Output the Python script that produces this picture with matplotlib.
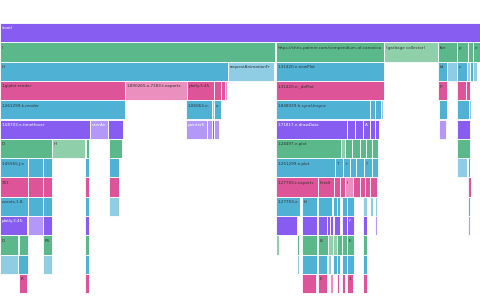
import matplotlib
matplotlib.use("Agg")
import matplotlib.pyplot as plt

# flame chart frames, one list per depth: (start ms, duration ms, name, dimmed)
row0 = [(0, 480, "(root)", False)]
row1 = [(0, 275, "l", False), (276, 108, "https://chris-palmer.com/compendium-of-canonical-charts", False),
        (384, 54, "(garbage collector)", True), (438, 19, "fwr", False), (457, 11, "p", False),
        (468, 5, "", False), (473, 7, "e", False)]
row2 = [(0, 228, "H", False), (228, 46, "requestAnimationFrame", True), (276, 108, "1.31420.e.newPlot", False),
        (438, 9, "tde", False), (447, 10, "", True), (457, 10, "c", False), (467, 3, "", True),
        (470, 3, "", False), (473, 4, "", True)]
row3 = [(0, 125, "1.glplot.render", False), (125, 62, "1.890265.e.7183.t.exports", True),
        (187, 27, "plotly.3.45.3.min.js", False), (214, 7, "", False), (221, 4, "", False),
        (225, 2, "", True), (276, 108, "1.31420.e._doPlot", False), (438, 9, "p", False),
        (457, 9, "", False), (466, 4, "", False)]
row4 = [(0, 125, "1.261299.k.render", False), (186, 26, "1.06063.e.6963.e.b", False), (212, 2, "", True),
        (214, 7, "s", False), (276, 94, "1.848029.h.syncUnsync", False), (370, 5, "", False),
        (375, 6, "", False), (381, 2, "", True), (439, 8, "", False), (457, 12, "", False), (469, 2, "", True)]
row5 = [(0, 90, "1.58703.e.timeHover", False), (90, 18, "userAnimation", True), (108, 15, "", False),
        (186, 21, "pointerEvents", True), (207, 5, "", True), (212, 2, "", False), (214, 5, "", True),
        (276, 71, "1.71817.e.drawData", False), (347, 8, "", False), (355, 8, "", False),
        (363, 7, "A", False), (370, 5, "D", False), (375, 4, "", False), (439, 7, "", True), (457, 13, "", False)]
row6 = [(0, 52, "D", False), (52, 33, "H", True), (86, 3, "B", False), (109, 13, "", False),
        (276, 65, "1.24497.e.plot", False), (341, 4, "", True), (345, 7, "", False), (352, 8, "", False),
        (360, 6, "", False), (366, 6, "", False), (372, 6, "", False), (457, 13, "", False)]
row7 = [(0, 28, "1.45565.J.each", False), (28, 15, "", False), (43, 9, "", False), (85, 4, "", False),
        (109, 10, "", False), (276, 59, "1.251299.e.plot", False), (335, 8, "T", False), (343, 7, "+", False),
        (350, 6, "", False), (356, 8, "", False), (364, 8, "?", False), (372, 6, "", False),
        (457, 10, "", True), (468, 2, "", False)]
row8 = [(0, 28, "351", False), (28, 15, "", False), (43, 9, "", False), (85, 4, "", False),
        (109, 10, "", False), (276, 42, "1.27705.t.exports", False), (318, 16, "F.redraw", False),
        (334, 6, "", False), (340, 5, "", False), (345, 8, "I", True), (353, 7, "", False),
        (360, 5, "", False), (365, 5, "", False), (370, 7, "", False), (468, 3, "", False)]
row9 = [(0, 28, "events.1.8.3.min.js", False), (28, 15, "", False), (43, 9, "", False), (85, 4, "", False),
        (109, 10, "", True), (276, 24, "1.27703.e.render", False), (302, 15, "ld", False), (318, 14, "", False),
        (333, 4, "", False), (337, 3, "", False), (342, 5, "", False), (347, 7, "", False),
        (363, 4, "", True), (370, 3, "", True), (375, 2, "", True), (468, 2, "", False)]
row10 = [(0, 27, "plotly.3.45.3.min.js.parent", False), (28, 15, "", True), (43, 9, "", False),
         (85, 4, "", False), (276, 21, "", False), (302, 15, "", False), (318, 9, "", False),
         (327, 3, "", False), (330, 3, "", False), (334, 6, "", False), (342, 5, "", False),
         (347, 7, "F", False), (363, 4, "", False), (375, 2, "", True), (468, 2, "", True)]
row11 = [(0, 18, "D", False), (19, 9, "", False), (43, 9, "R5", False), (85, 4, "", False),
         (276, 3, "", True), (297, 2, "", False), (302, 15, "", False), (318, 10, "B", False),
         (328, 5, "", True), (333, 4, "", True), (337, 5, "", False), (342, 5, "", False),
         (347, 7, "E", False), (363, 4, "", False)]
row12 = [(0, 18, "", True), (18, 10, "", False), (43, 9, "", True), (85, 4, "", False),
         (297, 2, "", True), (302, 15, "", False), (318, 9, "", False), (328, 3, "", True),
         (333, 4, "", False), (337, 3, "", False), (342, 5, "", False), (347, 7, "", False), (363, 4, "", False)]
row13 = [(19, 8, "RS", False), (85, 4, "", False), (302, 14, "", False), (318, 9, "E", False),
         (330, 3, "", True), (337, 2, "", False), (342, 3, "", False), (347, 6, "10", False), (363, 4, "", False)]

rows = [row0, row1, row2, row3, row4, row5, row6, row7, row8, row9, row10, row11, row12, row13]

# colour cycles by depth
palette = ["#4fb1d3", "#865cf1", "#5bb88a", "#4fb1d3", "#dd5598"]
light = ["#8ecde4", "#b398f7", "#8fd0ab", "#8ecde4", "#ea8fbe"]

fig = plt.figure(figsize=(4.8, 3.0), dpi=100)
ax = fig.add_axes([0, 0, 1, 1])
ax.set_xlim(0, 480)
pitch = 19.3
ax.set_ylim((300 - 23) / pitch, -23 / pitch)
ax.axis("off")

renderer = fig.canvas.get_renderer()

for d, frames in enumerate(rows):
    k = (d + 1) % 5
    for start, dur, name, dim in frames:
        col = light[k] if dim else palette[k]
        ax.barh(d, dur, left=start, height=1.0, align="edge",
                color=col, edgecolor="white", linewidth=0.6)
        if not name:
            continue
        tc = "white" if k == 1 else "#333333"
        t = ax.text(start + 1.5, d + 0.18, name, fontsize=3.0, color=tc,
                    va="top", ha="left")
        # cut the label down so it stays inside its frame, like the profiler does
        room = ax.transData.transform((start + dur - 1.5, 0))[0]
        s = name
        while s and t.get_window_extent(renderer).x1 > room:
            s = s[:-1]
            t.set_text(s)

fig.savefig("out.png", dpi=100)
